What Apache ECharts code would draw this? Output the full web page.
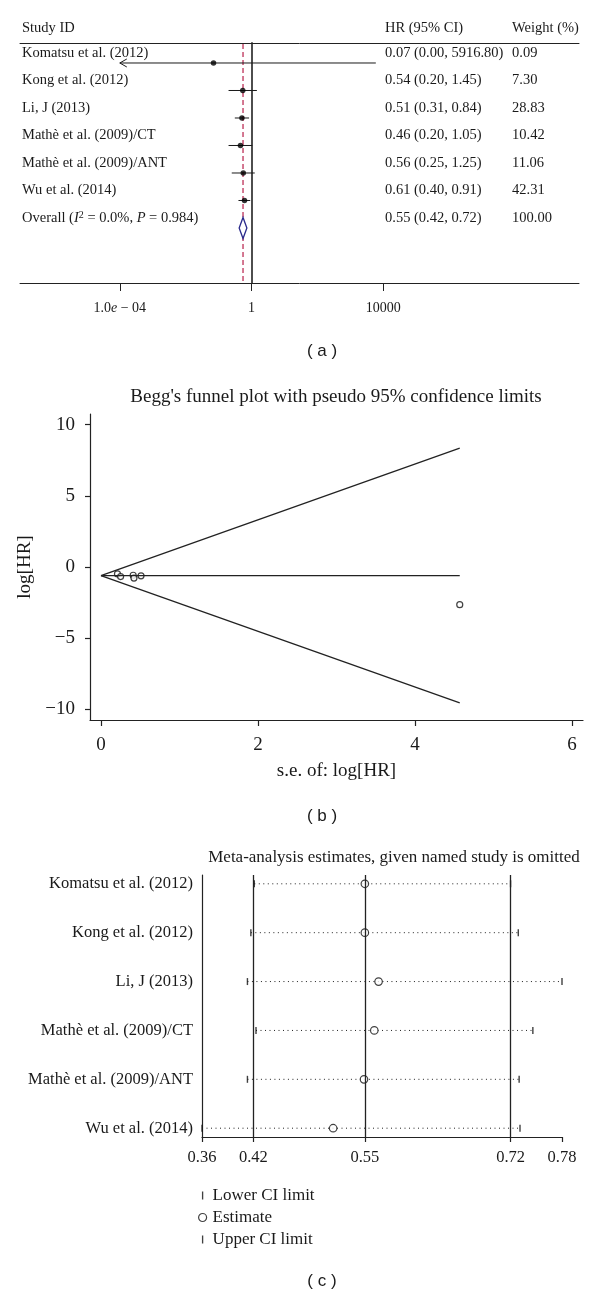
<!DOCTYPE html>
<html><head><meta charset="utf-8">
<script src="https://cdn.jsdelivr.net/npm/echarts@6/dist/echarts.min.js"></script>
<style>html,body{margin:0;padding:0;background:#fff}#c{width:600px;height:1300px}</style>
</head><body><div id="c"></div>
<script>
// ---------- Panel (a): forest plot ----------
const studies = ['Komatsu et al. (2012)', 'Kong et al. (2012)', 'Li, J (2013)', 'Mathè et al. (2009)/CT', 'Mathè et al. (2009)/ANT', 'Wu et al. (2014)'];
const hr = [0.07, 0.54, 0.51, 0.46, 0.56, 0.61];
const hrLow = [0.00, 0.20, 0.31, 0.20, 0.25, 0.40];
const hrHigh = [5916.80, 1.45, 0.84, 1.05, 1.25, 0.91];
const weights = [0.09, 7.30, 28.83, 10.42, 11.06, 42.31];
const overallHR = [0.55, 0.42, 0.72]; // estimate, lower, upper
const overallWeight = 100.00;
const forestTicks = [1e-4, 1, 10000];
const forestTickLabels = ['1.0{e|e} \u2212 04', '1', '10000'];

// ---------- Panel (b): Begg's funnel plot ----------
const funnelSE = [0.21, 0.25, 0.41, 0.42, 0.51, 4.57];
const funnelLogHR = [-0.49, -0.67, -0.58, -0.78, -0.62, -2.65];
const funnelUpper = [[0, -0.6], [4.57, 8.35]];
const funnelLower = [[0, -0.6], [4.57, -9.55]];
const funnelCenter = [[0, -0.6], [4.57, -0.6]];
const funnelXTicks = [0, 2, 4, 6];
const funnelYTicks = [-10, -5, 0, 5, 10];

// ---------- Panel (c): influence analysis ----------
const infEstimate = [0.550, 0.550, 0.566, 0.561, 0.549, 0.513];
const infLower = [0.421, 0.417, 0.413, 0.423, 0.413, 0.360];
const infUpper = [0.720, 0.729, 0.780, 0.746, 0.730, 0.731];
const infRefLines = [0.42, 0.55, 0.72];
const infTicks = [0.36, 0.42, 0.55, 0.72, 0.78];

const SERIF = '"Liberation Serif", "DejaVu Serif", serif';
const SANS = '"Liberation Sans", Arial, sans-serif';
const INK = '#1a1a1a';
const lg = v => Math.log10(v);
const minus = v => (v < 0 ? '\u2212' + Math.abs(v) : String(v));

const chart = echarts.init(document.getElementById('c'), null, {renderer: 'canvas'});

const rows = studies.map((s, i) => i);

const option = {
  animation: false,
  backgroundColor: '#fff',
  title: [
    {text: 'Study ID', left: 22, top: 21, padding: 0, textStyle: {fontFamily: SERIF, fontSize: 14.5, fontWeight: 'normal', color: INK}},
    {text: 'HR (95% CI)', left: 385, top: 21, padding: 0, textStyle: {fontFamily: SERIF, fontSize: 14.5, fontWeight: 'normal', color: INK}},
    {text: 'Weight (%)', left: 512, top: 21, padding: 0, textStyle: {fontFamily: SERIF, fontSize: 14.5, fontWeight: 'normal', color: INK}},
    {text: '( a )', left: 322, top: 343, padding: 0, textAlign: 'center', textStyle: {fontFamily: SANS, fontSize: 17, fontWeight: 'normal', color: INK}},
    {text: "Begg's funnel plot with pseudo 95% confidence limits", left: 336, top: 388, padding: 0, textAlign: 'center', textStyle: {fontFamily: SERIF, fontSize: 19, fontWeight: 'normal', color: INK}},
    {text: '( b )', left: 322, top: 808, padding: 0, textAlign: 'center', textStyle: {fontFamily: SANS, fontSize: 17, fontWeight: 'normal', color: INK}},
    {text: 'Meta-analysis estimates, given named study is omitted', left: 394, top: 849, padding: 0, textAlign: 'center', textStyle: {fontFamily: SERIF, fontSize: 17, fontWeight: 'normal', color: INK}},
    {text: '( c )', left: 322, top: 1273, padding: 0, textAlign: 'center', textStyle: {fontFamily: SANS, fontSize: 17, fontWeight: 'normal', color: INK}}
  ],
  legend: {
    data: [
      {name: 'Lower CI limit', icon: 'path://M0,0H1V6H0Z'},
      {name: 'Estimate', icon: 'circle', itemStyle: {color: '#fff', borderColor: '#111', borderWidth: 1.2}},
      {name: 'Upper CI limit', icon: 'path://M0,0H1V6H0Z'}
    ],
    orient: 'vertical', left: 198, top: 1187, padding: 0,
    itemWidth: 10, itemHeight: 8, itemGap: 5,
    selectedMode: false,
    textStyle: {fontFamily: SERIF, fontSize: 17, color: INK, padding: [0, 0, 0, 0]}
  },
  grid: [
    {left: 20, right: 21, top: 43, bottom: 1300 - 283, outerBoundsMode: 'none'},
    {left: 90, right: 17, top: 414, bottom: 1300 - 720, outerBoundsMode: 'none'},
    {left: 202, right: 38, top: 875, bottom: 1300 - 1137, outerBoundsMode: 'none'}
  ],
  xAxis: [
    { // forest bottom axis (log10 of HR)
      type: 'value', gridIndex: 0, min: -7.03, max: 9.94, position: 'bottom',
      axisLine: {show: true, onZero: false, lineStyle: {color: '#222', width: 1}},
      axisTick: {show: true, length: 8, customValues: forestTicks.map(lg), lineStyle: {color: '#222', width: 1}},
      axisLabel: {show: true, margin: 18, customValues: forestTicks.map(lg),
        formatter: v => forestTickLabels[forestTicks.map(lg).findIndex(t => Math.abs(t - v) < 1e-9)] || '',
        fontFamily: SERIF, fontSize: 14, color: INK,
        rich: {e: {fontFamily: SERIF, fontSize: 14, fontStyle: 'italic', color: INK}}},
      splitLine: {show: false}
    },
    { // forest header rule
      type: 'value', gridIndex: 0, min: -7.03, max: 9.94, position: 'top',
      axisLine: {show: true, onZero: false, lineStyle: {color: '#222', width: 1}},
      axisTick: {show: false}, axisLabel: {show: false}, splitLine: {show: false}
    },
    { // funnel x
      type: 'value', gridIndex: 1, min: -0.14, max: 6.14,
      name: 's.e. of: log[HR]', nameLocation: 'middle', nameGap: 42,
      nameTextStyle: {fontFamily: SERIF, fontSize: 19, color: INK},
      axisLine: {show: true, onZero: false, lineStyle: {color: '#222', width: 1.2}},
      axisTick: {show: true, length: 6, customValues: funnelXTicks, lineStyle: {color: '#222', width: 1.2}},
      axisLabel: {show: true, margin: 16, customValues: funnelXTicks, formatter: minus, fontFamily: SERIF, fontSize: 19, color: INK},
      splitLine: {show: false}
    },
    { // influence x
      type: 'value', gridIndex: 2, min: 0.36, max: 0.78,
      axisLine: {show: true, onZero: false, lineStyle: {color: '#222', width: 1.2}},
      axisTick: {show: true, length: 5, customValues: infTicks, lineStyle: {color: '#222', width: 1.2}},
      axisLabel: {show: true, margin: 12, customValues: infTicks, formatter: v => v.toFixed(2), fontFamily: SERIF, fontSize: 16.5, color: INK},
      splitLine: {show: false}
    }
  ],
  yAxis: [
    { // forest rows; axis line sits on HR = 1
      type: 'value', gridIndex: 0, min: -0.727, max: 8, inverse: true,
      axisLine: {show: true, onZero: true, onZeroAxisIndex: 0, lineStyle: {color: '#3a3a3a', width: 1.8}},
      axisTick: {show: false}, axisLabel: {show: false}, splitLine: {show: false}
    },
    { // funnel y
      type: 'value', gridIndex: 1, min: -10.75, max: 10.75,
      name: 'log[HR]', nameLocation: 'middle', nameGap: 38, nameRotate: 90,
      nameTextStyle: {fontFamily: SERIF, fontSize: 19, color: INK},
      axisLine: {show: true, onZero: false, lineStyle: {color: '#222', width: 1.2}},
      axisTick: {show: true, length: 5, customValues: funnelYTicks, lineStyle: {color: '#222', width: 1.2}},
      axisLabel: {show: true, margin: 15, customValues: funnelYTicks, formatter: minus, fontFamily: SERIF, fontSize: 19, color: INK},
      splitLine: {show: false}
    },
    { // influence rows
      type: 'value', gridIndex: 2, min: -0.18, max: 5.18, inverse: true,
      axisLine: {show: true, onZero: false, lineStyle: {color: '#222', width: 1.2}},
      axisTick: {show: false},
      axisLabel: {show: true, margin: 9, customValues: rows, formatter: v => studies[Math.round(v)] || '', fontFamily: SERIF, fontSize: 16.5, color: INK},
      splitLine: {show: false}
    }
  ],
  series: [
    // ---- (a) red dashed line at the pooled estimate ----
    {
      type: 'custom', xAxisIndex: 0, yAxisIndex: 0, silent: true, z: 1,
      data: [[lg(overallHR[0])]],
      renderItem: (params, api) => {
        const x = api.coord([api.value(0), 0])[0];
        const cs = params.coordSys;
        return {type: 'line', shape: {x1: x, y1: cs.y + 1, x2: x, y2: cs.y + cs.height},
          style: {stroke: '#b8204a', lineWidth: 1.2, lineDash: [5, 3]}};
      }
    },
    // ---- (a) confidence interval lines ----
    {
      type: 'custom', xAxisIndex: 0, yAxisIndex: 0, silent: true, z: 3,
      data: rows.map(i => {
        const lo = Math.max(hrLow[i], forestTicks[0]);
        return [lg(lo), lg(hrHigh[i]), i, hrLow[i] < forestTicks[0] ? 1 : 0];
      }),
      renderItem: (params, api) => {
        const p0 = api.coord([api.value(0), api.value(2)]);
        const p1 = api.coord([api.value(1), api.value(2)]);
        const children = [{type: 'line', shape: {x1: p0[0], y1: p0[1], x2: p1[0], y2: p1[1]}, style: {stroke: INK, lineWidth: 1}}];
        if (api.value(3) === 1) {
          children.push({type: 'polyline', shape: {points: [[p0[0] + 7, p0[1] - 4], [p0[0], p0[1]], [p0[0] + 7, p0[1] + 4]]}, style: {stroke: INK, fill: 'none', lineWidth: 1}});
        }
        return {type: 'group', children};
      }
    },
    // ---- (a) point estimates ----
    {
      type: 'scatter', xAxisIndex: 0, yAxisIndex: 0, silent: true, z: 4,
      symbol: 'circle', symbolSize: 5.5, itemStyle: {color: '#000'},
      data: rows.map(i => [lg(hr[i]), i])
    },
    // ---- (a) overall diamond ----
    {
      type: 'custom', xAxisIndex: 0, yAxisIndex: 0, silent: true, z: 4,
      data: [[lg(overallHR[1]), lg(overallHR[0]), lg(overallHR[2]), studies.length]],
      renderItem: (params, api) => {
        const r = api.value(3);
        const a = api.coord([api.value(0), r]);
        const m = api.coord([api.value(1), r]);
        const b = api.coord([api.value(2), r]);
        return {type: 'polygon', shape: {points: [[a[0], a[1]], [m[0], m[1] - 10.5], [b[0], b[1]], [m[0], m[1] + 10.5]]},
          style: {stroke: '#2b2b8c', fill: '#fff', lineWidth: 1.3}};
      }
    },
    // ---- (a) text columns ----
    {
      type: 'custom', xAxisIndex: 0, yAxisIndex: 0, silent: true,
      data: rows.concat([studies.length]).map(i => [0, i]),
      renderItem: (params, api) => {
        const i = api.value(1);
        const y = api.coord([0, i])[1] - 10;
        const x0 = params.coordSys.x;
        const isOverall = i === studies.length;
        const base = {fontFamily: SERIF, fontSize: 14.5, fill: INK, verticalAlign: 'middle', align: 'left'};
        const label = isOverall ? 'Overall ({i|I}{s|2} = 0.0%, {i|P} = 0.984)' : studies[i];
        const ci = isOverall
          ? overallHR[0].toFixed(2) + ' (' + overallHR[1].toFixed(2) + ', ' + overallHR[2].toFixed(2) + ')'
          : hr[i].toFixed(2) + ' (' + hrLow[i].toFixed(2) + ', ' + hrHigh[i].toFixed(2) + ')';
        const w = isOverall ? overallWeight.toFixed(2) : weights[i].toFixed(2);
        return {type: 'group', children: [
          {type: 'text', x: x0 + 2, y, style: Object.assign({}, base, {text: label,
            rich: {i: {fontFamily: SERIF, fontSize: 14.5, fontStyle: 'italic', fill: INK},
                   s: {fontFamily: SERIF, fontSize: 10, fill: INK, verticalAlign: 'top', lineHeight: 16}}})},
          {type: 'text', x: x0 + 365, y, style: Object.assign({}, base, {text: ci})},
          {type: 'text', x: x0 + 492, y, style: Object.assign({}, base, {text: w})}
        ]};
      }
    },
    // ---- (b) funnel limits ----
    {type: 'line', xAxisIndex: 2, yAxisIndex: 1, silent: true, symbol: 'none', data: funnelUpper, lineStyle: {color: '#222', width: 1.3}},
    {type: 'line', xAxisIndex: 2, yAxisIndex: 1, silent: true, symbol: 'none', data: funnelLower, lineStyle: {color: '#222', width: 1.3}},
    {type: 'line', xAxisIndex: 2, yAxisIndex: 1, silent: true, symbol: 'none', data: funnelCenter, lineStyle: {color: '#222', width: 1.3}},
    // ---- (b) study points ----
    {
      type: 'scatter', xAxisIndex: 2, yAxisIndex: 1, silent: true,
      symbol: 'circle', symbolSize: 6,
      itemStyle: {color: '#fff', borderColor: '#111', borderWidth: 1.2},
      data: funnelSE.map((s, i) => [s, funnelLogHR[i]])
    },
    // ---- (c) dotted interval lines ----
    {
      type: 'custom', xAxisIndex: 3, yAxisIndex: 2, silent: true,
      data: rows.map(i => [infLower[i], infUpper[i], i]),
      renderItem: (params, api) => {
        const p0 = api.coord([api.value(0), api.value(2)]);
        const p1 = api.coord([api.value(1), api.value(2)]);
        return {type: 'line', shape: {x1: p0[0], y1: p0[1], x2: p1[0], y2: p1[1]},
          style: {stroke: '#222', lineWidth: 1, lineDash: [1, 3.5]}};
      }
    },
    // ---- (c) reference lines + lower limit ticks ----
    {
      name: 'Lower CI limit', type: 'scatter', xAxisIndex: 3, yAxisIndex: 2, silent: true,
      symbol: 'rect', symbolSize: [1.4, 7], itemStyle: {color: '#111'},
      data: rows.map(i => [infLower[i], i]),
      markLine: {
        silent: true, symbol: 'none', label: {show: false},
        lineStyle: {color: '#222', type: 'solid', width: 1.3},
        data: infRefLines.map(v => ({xAxis: v}))
      }
    },
    {
      name: 'Estimate', type: 'scatter', xAxisIndex: 3, yAxisIndex: 2, silent: true,
      symbol: 'circle', symbolSize: 7.5,
      itemStyle: {color: '#fff', borderColor: '#111', borderWidth: 1.2},
      data: rows.map(i => [infEstimate[i], i])
    },
    {
      name: 'Upper CI limit', type: 'scatter', xAxisIndex: 3, yAxisIndex: 2, silent: true,
      symbol: 'rect', symbolSize: [1.4, 7], itemStyle: {color: '#111'},
      data: rows.map(i => [infUpper[i], i])
    }
  ]
};
chart.setOption(option);
</script>
</body></html>
